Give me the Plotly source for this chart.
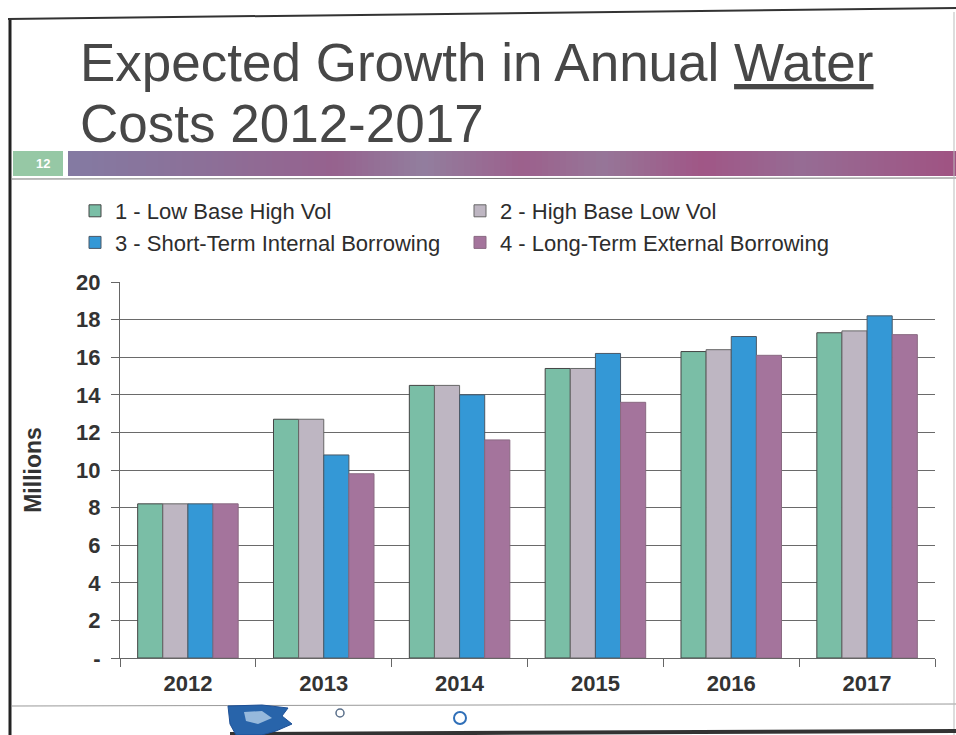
import plotly.graph_objects as go

# ---- data (millions of dollars per year) ----
years = ["2012", "2013", "2014", "2015", "2016", "2017"]
low_base_high_vol = [8.2, 12.7, 14.5, 15.4, 16.3, 17.3]
high_base_low_vol = [8.2, 12.7, 14.5, 15.4, 16.4, 17.4]
short_term_internal = [8.2, 10.8, 14.0, 16.2, 17.1, 18.2]
long_term_external = [8.2, 9.8, 11.6, 13.6, 16.1, 17.2]

series_names = [
    "1 - Low Base High Vol",
    "2 - High Base Low Vol",
    "3 - Short-Term Internal Borrowing",
    "4 - Long-Term External Borrowing",
]
y_ticks = [0, 2, 4, 6, 8, 10, 12, 14, 16, 18, 20]
y_ticktext = ["-", "2", "4", "6", "8", "10", "12", "14", "16", "18", "20"]

# ---- page geometry ----
W, H = 956, 735
L, R, T, B = 120, 21, 282, 77
PW, PH = W - L - R, H - T - B

def px(x):
    return (x - L) / PW

def py(y):
    return (H - B - y) / PH

FONT = "Liberation Sans, Arial, sans-serif"
colors = ["rgb(122,190,166)", "rgb(190,182,194)", "rgb(52,152,214)", "rgb(164,116,156)"]
edges = ["#444", "#666", "#4a5866", "#8a6a82"]

fig = go.Figure()
for name, vals, c, e in zip(series_names,
                            [low_base_high_vol, high_base_low_vol,
                             short_term_internal, long_term_external],
                            colors, edges):
    fig.add_trace(go.Bar(x=years, y=vals, name=name,
                         marker=dict(color=c, line=dict(color=e, width=1))))

shapes = []
annotations = []

# header band: stripes blended between colour stops
stops = [(68, (132, 122, 162)), (200, (140, 112, 152)), (330, (150, 98, 142)),
         (420, (146, 126, 158)), (520, (156, 96, 140)), (600, (150, 118, 152)),
         (700, (160, 86, 134)), (800, (150, 108, 148)), (956, (160, 82, 130))]

def band_color(x):
    for (x0, c0), (x1, c1) in zip(stops[:-1], stops[1:]):
        if x0 <= x <= x1:
            t = (x - x0) / (x1 - x0)
            return "rgb(%d,%d,%d)" % tuple(round(a + (b - a) * t) for a, b in zip(c0, c1))
    return "rgb(%d,%d,%d)" % stops[-1][1]

x = 68
while x < 956:
    x2 = min(x + 6, 956)
    shapes.append(dict(type="rect", xref="paper", yref="paper",
                       x0=px(x), x1=px(x2), y0=py(176), y1=py(151),
                       fillcolor=band_color(x), line=dict(width=0), layer="below"))
    x = x2

# slide-number box
shapes.append(dict(type="rect", xref="paper", yref="paper",
                   x0=px(13), x1=px(63), y0=py(176), y1=py(151),
                   fillcolor="rgb(150,200,165)", line=dict(width=0), layer="below"))
annotations.append(dict(text="<b>12</b>", xref="paper", yref="paper",
                        x=px(34), y=py(163), yanchor="middle", showarrow=False,
                        font=dict(family=FONT, size=13, color="white")))

# rules and frame
shapes += [
    dict(type="line", xref="paper", yref="paper", x0=px(12), x1=px(956),
         y0=py(179), y1=py(178), line=dict(color="#777", width=1)),
    dict(type="line", xref="paper", yref="paper", x0=px(12), x1=px(956),
         y0=py(706), y1=py(704), line=dict(color="#999", width=1)),
    dict(type="line", xref="paper", yref="paper", x0=px(10), x1=px(10),
         y0=py(18), y1=py(735), line=dict(color="#222", width=3)),
    dict(type="line", xref="paper", yref="paper", x0=px(954), x1=px(954),
         y0=py(12), y1=py(735), line=dict(color="#bbb", width=1)),
    dict(type="line", xref="paper", yref="paper", x0=px(8), x1=px(956),
         y0=py(19), y1=py(8), line=dict(color="#333", width=2)),
    dict(type="line", xref="paper", yref="paper", x0=px(230), x1=px(956),
         y0=py(734), y1=py(731), line=dict(color="#333", width=4)),
    dict(type="circle", xref="paper", yref="paper", x0=px(336), x1=px(344),
         y0=py(717), y1=py(709), line=dict(color="#5a6f8a", width=1.5)),
    dict(type="circle", xref="paper", yref="paper", x0=px(454), x1=px(466),
         y0=py(724), y1=py(712), line=dict(color="#2f6fb8", width=2)),
]
# logo fragment at the foot of the slide
blob = [(228, 706), (262, 705), (288, 708), (282, 716), (292, 724), (276, 731),
        (262, 735), (236, 735), (230, 724)]
path = "M " + " L ".join("%f,%f" % (px(a), py(b)) for a, b in blob) + " Z"
shapes.append(dict(type="path", xref="paper", yref="paper", path=path,
                   fillcolor="rgb(40,100,170)", line=dict(color="rgb(30,80,150)", width=1)))
inner = [(244, 712), (262, 711), (272, 718), (258, 724), (246, 721)]
path2 = "M " + " L ".join("%f,%f" % (px(a), py(b)) for a, b in inner) + " Z"
shapes.append(dict(type="path", xref="paper", yref="paper", path=path2,
                   fillcolor="rgb(150,185,220)", line=dict(width=0)))

# title
annotations += [
    dict(text="Expected Growth in Annual <u>Water</u>", xref="paper", yref="paper",
         x=px(78), y=py(62), xanchor="left", yanchor="middle", showarrow=False,
         font=dict(family=FONT, size=53, color="#474747")),
    dict(text="Costs 2012-2017", xref="paper", yref="paper",
         x=px(78), y=py(123), xanchor="left", yanchor="middle", showarrow=False,
         font=dict(family=FONT, size=53, color="#474747")),
]

fig.update_layout(
    width=W, height=H,
    margin=dict(l=L, r=R, t=T, b=B),
    paper_bgcolor="white", plot_bgcolor="white",
    barmode="group", bargap=0.26, bargroupgap=0,
    font=dict(family=FONT, color="#333"),
    showlegend=True,
    legend=dict(orientation="h", x=px(75), y=py(190), xanchor="left", yanchor="top",
                entrywidth=340, font=dict(family=FONT, size=22, color="#2d2d2d"),
                bgcolor="rgba(0,0,0,0)", traceorder="normal"),
    shapes=shapes, annotations=annotations,
)
fig.update_xaxes(type="category", showline=True, linecolor="#666", linewidth=1,
                 ticks="outside", tickson="boundaries", ticklen=8, tickcolor="#666",
                 ticklabelstandoff=6,
                 tickfont=dict(family=FONT, size=22, color="#333", weight="bold"),
                 showgrid=False)
fig.update_yaxes(range=[0, 20], tickvals=y_ticks, ticktext=y_ticktext,
                 showline=True, linecolor="#666", linewidth=1,
                 ticks="outside", ticklen=8, tickcolor="#666",
                 ticklabelstandoff=6,
                 showgrid=True, gridcolor="#6a6a6a", gridwidth=1,
                 tickfont=dict(family=FONT, size=22, color="#333", weight="bold"),
                 title=dict(text="Millions", standoff=28,
                            font=dict(family=FONT, size=23, color="#333", weight="bold")))

fig.write_html("out.html")
